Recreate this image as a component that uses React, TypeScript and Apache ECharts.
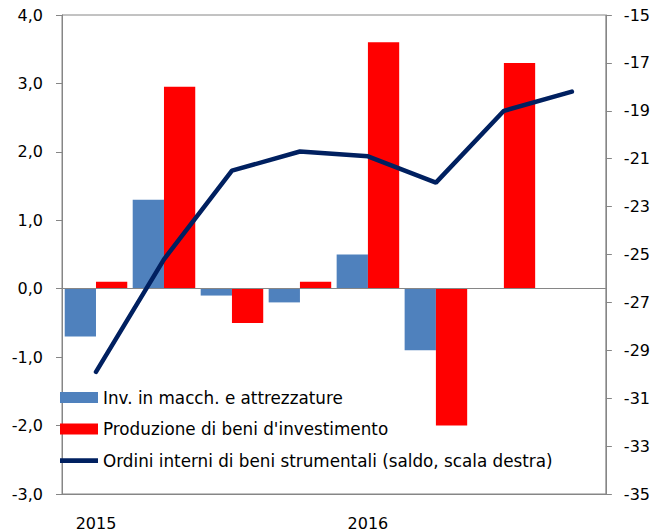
import React, { useEffect, useRef } from "react";
import * as echarts from "echarts";

const categories = ["2015 T1", "2015 T2", "2015 T3", "2015 T4", "2016 T1", "2016 T2", "2016 T3", "2016 T4"];
const invMacchine = [-0.7, 1.3, -0.1, -0.2, 0.5, -0.9, null, null];
const produzione = [0.1, 2.95, -0.5, 0.1, 3.6, -2.0, 3.3, null];
const ordini = [-29.9, -25.2, -21.5, -20.7, -20.9, -22.0, -19.0, -18.2];

const seriesNames = [
  "Inv. in macch. e attrezzature",
  "Produzione di beni d'investimento",
  "Ordini interni di beni strumentali (saldo, scala destra)",
];

const FONT = "'DejaVu Sans', 'Liberation Sans', Arial, sans-serif";
const GRAY = "#868686";
const NAVY = "#002060";

export default function App() {
  const ref = useRef<HTMLDivElement>(null);
  useEffect(() => {
    document.body.style.margin = "0";
    const chart = echarts.init(ref.current!, undefined, { renderer: "svg" });
    chart.setOption({
      animation: false,
      textStyle: { fontFamily: FONT },
      grid: {
        left: 62,
        right: 46,
        top: 15,
        bottom: 34,
        show: true,
        borderColor: GRAY,
        borderWidth: 1,
      },
      legend: {
        orient: "vertical",
        left: 60,
        top: 389,
        padding: 0,
        itemWidth: 38,
        itemHeight: 11,
        itemGap: 14.6,
        textStyle: { fontSize: 16.8, color: "#000", fontFamily: FONT },
        data: [
          { name: seriesNames[0], icon: "rect" },
          { name: seriesNames[1], icon: "rect" },
          { name: seriesNames[2], icon: "path://M0,0H40V5H0Z" },
        ],
      },
      xAxis: {
        type: "category",
        data: categories,
        boundaryGap: true,
        axisLine: { show: true, onZero: false, lineStyle: { color: GRAY } },
        axisTick: { show: false },
        axisLabel: {
          interval: (i: number) => i % 4 === 0,
          formatter: (v: string) => v.split(" ")[0],
          fontSize: 16,
          color: "#000",
          margin: 21,
          fontFamily: FONT,
        },
        splitLine: {
          show: true,
          interval: (i: number) => i === 4,
          lineStyle: { color: GRAY, width: 1 },
        },
      },
      yAxis: [
        {
          type: "value",
          min: -3,
          max: 4,
          interval: 1,
          axisLine: { show: true, lineStyle: { color: GRAY } },
          axisTick: { show: true, length: 6, lineStyle: { color: GRAY } },
          splitLine: { show: false },
          axisLabel: {
            formatter: (v: number) => v.toFixed(1).replace(".", ","),
            fontSize: 16,
            color: "#000",
            margin: 19,
            fontFamily: FONT,
          },
        },
        {
          type: "value",
          position: "right",
          min: -35,
          max: -15,
          interval: 2,
          axisLine: { show: true, lineStyle: { color: GRAY } },
          axisTick: { show: true, length: 6, lineStyle: { color: GRAY } },
          splitLine: { show: false },
          axisLabel: {
            formatter: (v: number) => String(v),
            fontSize: 16,
            color: "#000",
            margin: 18,
            fontFamily: FONT,
          },
        },
      ],
      series: [
        {
          name: seriesNames[0],
          type: "bar",
          data: invMacchine,
          barGap: "0%",
          barCategoryGap: "8%",
          itemStyle: { color: "#4F81BD" },
          markLine: {
            silent: true,
            symbol: "none",
            label: { show: false },
            lineStyle: { color: GRAY, width: 1, type: "solid" },
            data: [{ yAxis: 0 }],
          },
        },
        {
          name: seriesNames[1],
          type: "bar",
          data: produzione,
          barGap: "0%",
          barCategoryGap: "8%",
          itemStyle: { color: "#FF0000" },
        },
        {
          name: seriesNames[2],
          type: "line",
          yAxisIndex: 1,
          data: ordini,
          symbol: "none",
          z: 5,
          itemStyle: { color: NAVY },
          lineStyle: { color: NAVY, width: 4.5, cap: "round" },
        },
      ],
    });
    return () => chart.dispose();
  }, []);
  return <div ref={ref} style={{ width: 653, height: 531 }} />;
}
